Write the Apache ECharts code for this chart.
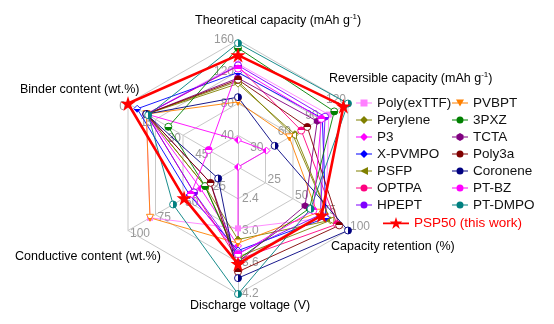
<!DOCTYPE html>
<html><head><meta charset="utf-8">
<script src="https://cdn.jsdelivr.net/npm/echarts@6/dist/echarts.min.js"></script>
<style>html,body{margin:0;padding:0;background:#fff}#c{width:554px;height:324px}</style>
</head><body><div id="c"></div>
<script>
// ---- data ----
const seriesNames = ['Poly(exTTF)','Perylene','P3','X-PVMPO','PSFP','OPTPA','HPEPT',
  'PVBPT','3PXZ','TCTA','Poly3a','Coronene','PT-BZ','PT-DMPO','PSP50 (this work)'];
const theoretical = [130,105,34,119,108,127,128, 82,150,112,110,88,124,156,141];
const reversible  = [ 99, 62,31, 92, 60, 69, 95, 56,105,86.5,75.6,40,91,120,115];
const retention   = [ 80, 84, 0, 80, 84, 90, 75, 72, 65, 61, 92,100,68.5,66,76];
const voltage     = [2.96,3.17,3.29,3.38,3.5,3.55,3.43,3.24,3.55,3.6,3.78,3.9,3.45,4.2,3.63];
const conductive  = [ 80, 30,34, 44, 30, 40, 40, 80, 30, 25, 25, 18, 43, 59, 49];
const binder      = [ 10, 10,10,  5, 10, 10, 10, 10, 22, 10, 10, 10, 44, 11,  0];
const axisTitles = ['Theoretical capacity (mAh g','Binder content (wt.%)','Conductive content (wt.%)',
  'Discharge voltage (V)','Capacity retention (%)','Reversible capacity (mAh g'];

// ---- styles ----
const colors = ['#ff80ff','#808000','#ff00ff','#0000ff','#808000','#ff0080','#8000ff',
  '#ff8000','#008000','#800080','#800000','#000080','#ff00ff','#008080','#ff0000'];
const shapes = ['rect','diamond','diamond','diamond','tleft','circle','circle',
  'tdown','circle','hex','circle','circle','circle','circle','star'];
const fills = ['full','top','left','bottom','left','top','bottom',
  'top','bottom','full','top','right','top','right','full'];
const STAR = 'M10,0 L12.245,6.91 L19.511,6.91 L13.633,11.18 L15.878,18.09 L10,13.82 L4.122,18.09 L6.367,11.18 L0.489,6.91 L7.755,6.91 Z';
const HEX = 'M8,0 L11.5,2 L11.5,6 L8,8 L4.5,6 L4.5,2 Z';
const TLEFT = 'M4,4 L12,0 L12,8 Z';
function seriesSymbol(s){
  if (s==='rect') return 'rect';
  if (s==='diamond') return 'diamond';
  if (s==='circle') return 'circle';
  if (s==='tdown') return 'triangle';
  if (s==='tleft') return 'path://'+TLEFT;
  if (s==='hex') return 'path://'+HEX;
  return 'path://'+STAR;
}
function legendIcon(s){
  const line = 'M0,3.5 L16,3.5 L16,4.5 L0,4.5 Z ';
  let sym;
  if (s==='rect') sym='M4.5,0.5 L11.5,0.5 L11.5,7.5 L4.5,7.5 Z';
  else if (s==='diamond') sym='M8,0 L12,4 L8,8 L4,4 Z';
  else if (s==='circle') sym='M4.5,4 A3.5,3.5 0 1 1 11.5,4 A3.5,3.5 0 1 1 4.5,4 Z';
  else if (s==='tdown') sym='M4,0.5 L12,0.5 L8,7.5 Z';
  else if (s==='tleft') sym=TLEFT;
  else if (s==='hex') sym=HEX;
  if (s==='star') return 'path://M0,8.3 L40,8.3 L40,10.8 L0,10.8 Z M20,0 L22.245,6.91 L29.511,6.91 L23.633,11.18 L25.878,18.09 L20,13.82 L14.122,18.09 L16.367,11.18 L10.489,6.91 L17.755,6.91 Z';
  return 'path://'+line+sym;
}
function halfFill(c, mode){
  if (mode==='full') return c;
  let x=0,y=0,x2=0,y2=0, first=c, second='#fff';
  if (mode==='top'||mode==='bottom'){ y2=1; } else { x2=1; }
  if (mode==='bottom'||mode==='right'){ first='#fff'; second=c; }
  return new echarts.graphic.LinearGradient(x,y,x2,y2,[
    {offset:0,color:first},{offset:0.5,color:first},{offset:0.5,color:second},{offset:1,color:second}]);
}

const chart = echarts.init(document.getElementById('c'), null, {renderer:'canvas'});
const FONT = "'Liberation Sans', Arial, sans-serif";

const series = seriesNames.map((n,i)=>{
  const isStar = shapes[i]==='star';
  return {
    type:'radar', name:n, z: isStar?5:2,
    symbol: seriesSymbol(shapes[i]),
    symbolSize: isStar?15:(shapes[i]==='rect'?6:7),
    symbolRotate: shapes[i]==='tdown'?180:0,
    lineStyle:{color:colors[i], width: isStar?2.6:0.9},
    itemStyle:{color:halfFill(colors[i],fills[i]), borderColor:colors[i], borderWidth: fills[i]==='full'?0:0.9},
    data:[{name:n, value:[theoretical[i], -binder[i], conductive[i], voltage[i], retention[i], reversible[i]]}]
  };
});

function legendData(from,to){
  return seriesNames.slice(from,to).map((n,k)=>({name:n, icon: legendIcon(shapes[from+k]),
    itemStyle:{color:colors[from+k], borderWidth:0}}));
}

const titleRich = {a:{fontSize:12.5,fontFamily:FONT,color:'#111'}, s:{fontSize:8,fontFamily:FONT,color:'#111',verticalAlign:'top',padding:[0,0,8,0]}};
function titleText(t, sup){ return sup ? '{a|'+t+'}{s|-1}{a|)}' : '{a|'+t+'}'; }
const titlePos = [[195,21,true],[20,90,false],[15,257,false],[190,306,false],[331,247,false],[329,79,true]];

chart.setOption({
  animation:false,
  backgroundColor:'#fff',
  radar:{
    center:[238,167], radius:127, startAngle:90, splitNumber:4, shape:'polygon',
    indicator:[{name:'',min:0,max:160},{name:'',min:-60,max:0},{name:'',min:0,max:100},
               {name:'',min:1.8,max:4.2},{name:'',min:0,max:100},{name:'',min:0,max:120}],
    axisName:{show:false},
    splitLine:{lineStyle:{color:'#c8c8c8',width:1}},
    splitArea:{show:false},
    axisLine:{lineStyle:{color:'#c8c8c8',width:1}},
    axisTick:{show:false},
    axisLabel:{show:true,color:'#999',fontSize:12,fontFamily:FONT,margin:4,
      formatter:function(v,idx){ if(idx===0) return ''; const a=Math.abs(v); return (a>1&&a<5)?a.toFixed(1):String(Math.round(a)); }}
  },
  legend:[
    {orient:'vertical',left:356,top:96,itemWidth:16,itemHeight:8,itemGap:3,padding:0,
     textStyle:{fontSize:13.5,fontFamily:FONT,color:'#111'},selectedMode:false,data:legendData(0,7)},
    {orient:'vertical',left:452,top:96,itemWidth:16,itemHeight:8,itemGap:3,padding:0,
     textStyle:{fontSize:13.5,fontFamily:FONT,color:'#111'},selectedMode:false,data:legendData(7,14)},
    {orient:'vertical',left:383,top:216,itemWidth:26,itemHeight:13,padding:0,
     textStyle:{fontSize:13.5,fontFamily:FONT,color:'#ff0000'},selectedMode:false,data:legendData(14,15)}
  ],
  graphic: titlePos.map((p,i)=>({type:'text', x:p[0], y:p[1],
     style:{text:titleText(axisTitles[i],p[2]), rich:titleRich, verticalAlign:'middle'}})),
  series: series
});
</script></body></html>
